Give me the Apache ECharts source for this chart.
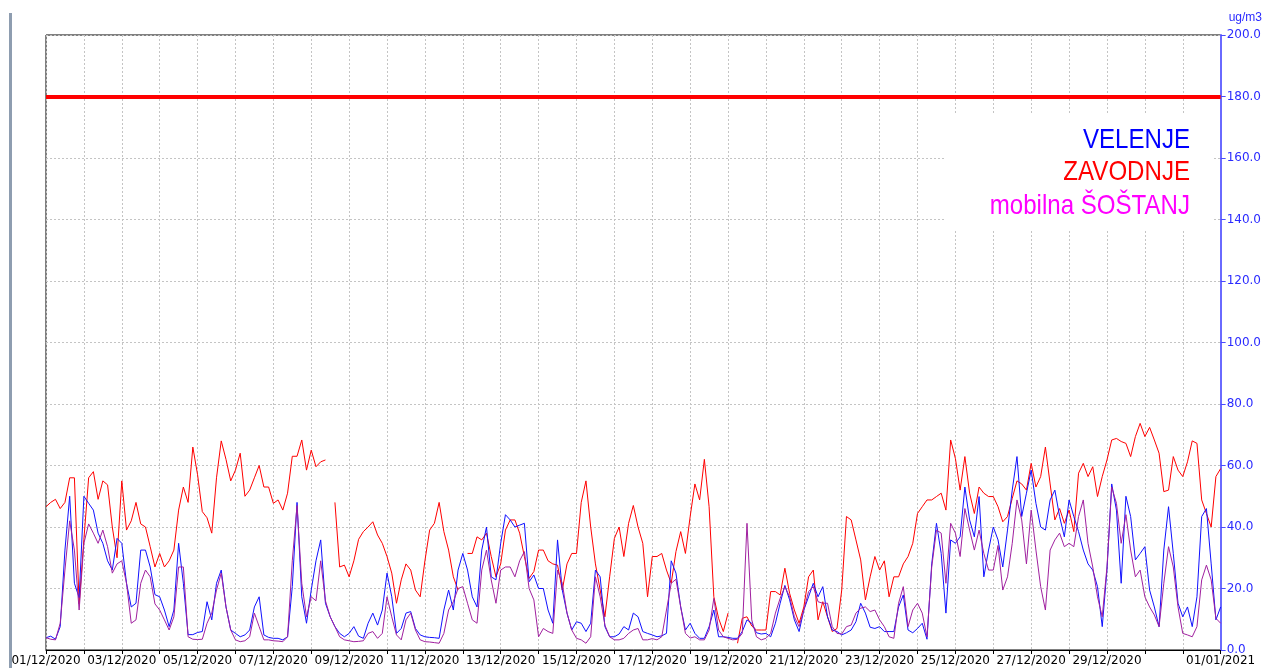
<!DOCTYPE html>
<html>
<head>
<meta charset="utf-8">
<script src="https://cdn.jsdelivr.net/npm/echarts@6/dist/echarts.min.js"></script>
<style>
html, body { margin: 0; padding: 0; background: #fff; }
#chart { width: 1264px; height: 668px; }
</style>
</head>
<body>
<div id="chart"></div>
<script>
// 3-urne vrednosti od 01/12/2020 00:00 do 01/01/2021 00:00 (ug/m3)
const stepHours = 3;

const velenje = [
  4, 4.5, 3.5, 7.6, 32.5, 50, 21.7, 17, 50, 47.7, 45.5, 38, 34.7, 29, 26, 36.3, 34.7, 21.7, 14, 15.2,
  32.5, 32.5, 27, 18, 17.3, 13, 7.6, 13, 34.7, 21.7, 5, 5, 5.7,
  6, 15.7, 9.8, 21.7, 26, 14, 6.5, 5.4, 4.3, 4.9, 6.5, 14, 17.3, 4.9, 4.1, 3.8, 3.8, 3.3, 4.3, 20.6,
  48, 17.3, 8.7, 19.5, 29, 35.8, 15.2, 10.8, 7.6, 5.4, 4.3, 5.4, 7.6,
  4.5,
  3.8, 8.7, 12, 8.1, 13, 25, 17.3, 5.4, 7, 12, 12.5, 7, 4.9, 4.3, 4.1, 4, 3.8, 13, 19.5, 13,
  26, 31.4, 26, 17.3, 14, 32.5, 40, 23.8, 22.8, 34.7, 44, 42.3, 40,
  40.6,
  41.2, 22.2, 24.4, 20, 20, 13, 8.7, 35.8, 19.5, 12, 6.5, 9.2, 8.7, 6, 8.7, 26, 23.8, 7.6, 4.3, 4.3,
  5.2, 7.6, 6.5, 12, 10.8, 6, 5.4, 4.9, 4.3, 4.6, 5.4, 29, 25,
  14, 6.5, 8.7, 5.4, 3.8, 3.8, 7.6, 13, 4.3, 4.3, 4.1, 3.8, 3.8, 6, 9.8, 8.7, 5.6, 5.2, 5.4, 4.3,
  8.7, 15.2, 21, 16.3, 9.8, 6, 13, 17.3, 21.7, 17.3, 20.6, 10.8, 6.5,
  6,
  4.9, 5.6, 6.5, 9.2, 15.2, 12, 7.4, 7, 7.6, 6, 6, 6, 14, 17.9, 6.5, 5.6, 7, 8.7, 3.5, 28,
  41.2, 31.4, 12, 35.8, 34.7, 36.8, 53, 42.3, 36.8, 49.9, 23.8, 32.5, 40,
  35.8, 27, 39, 52, 62.9, 43.4, 51, 58.5, 47.7, 40, 39, 48.8, 52, 43.4, 36.8, 48.8, 43.4, 38.5, 32.5, 28,
  26, 20.6, 7.6, 26, 54, 45.5, 21.7, 50, 43.4, 29.3, 31.4, 33.6, 19.5,
  14, 7.6, 32.5, 46.6, 31.4, 15.2, 10.8, 14, 7.6, 17.3, 43.4, 46, 28, 9.8, 14
];

const zavodnje = [
  46.6, 48, 49, 46, 48, 56, 56, 15, 36, 56, 58, 49, 55, 53.7, 40, 30, 55, 39, 42, 48,
  41, 40, 33.6, 27, 31.4, 27, 29, 32.5, 45.5, 53, 48, 66, 57,
  45, 43, 38, 56, 68, 62, 55, 58.5, 64, 50, 52, 56, 60, 53, 53, 47.7, 48.8, 45.5, 51, 63,
  63, 68.3, 58.5, 65, 59.6, 61.2, 61.8, null, 48, 27, 27.6, 23.8, 29,
  36,
  38.5, 40, 41.7, 37.4, 34.7, 30.4, 25, 15.2, 22.8, 28, 26, 19.5, 17.3, 29, 39, 41.2, 48, 38.5, 32.5, 23.8,
  19.5, null, 31.4, 31.4, 36.8, 35.8, 38, 30.4, 23.8, 28, 39, 42.3, 42.3,
  38,
  30.4, 23.3, 25.5, 32.5, 32.5, 29, 28, 27.6, 19.5, 28, 31.4, 31.4, 48, 55, 40, 28, 19.5, 10.8, 23.8, 36.3,
  40, 30.4, 41.2, 47, 40, 34.7, 17.3, 30.4, 30.4, 31.4, 26, 21.7, 32,
  38.5, 31.4, 43.4, 54, 48.8, 62, 46.6, 17.3, 10.3, 6, 12, null, 2.2, 10.3, 10.8, 7.8, 6.5, 6.5, 6.5, 19,
  19, 17.9, 26.6, 18.4, 13, 8.7, 14, 23.8, 26, 9.8, 15.7, 10.8, 6,
  7,
  19.5, 43.4, 42.3, 35.8, 29.3, 16.3, 23.8, 30.4, 26, 29, 17.3, 23.8, 23.8, 28, 30.4, 34.7, 44.4, 46.6, 48.8, 48.8,
  49.9, 51, 45.5, 68.3, 62.3, 52, 62.9, 51, 44.4, 53, 51, 49.9, 49.9,
  46.6, 41.7, 43.4, 49.3, 55, 54, 52, 60.7, 53, 56.4, 66, 54, 42.3, 46, 41.2, 45.5, 38.5, 57.5, 60.7, 56.4,
  59.6, 49.9, 56.4, 61.8, 68.3, 68.8, 67.8, 67.2, 62.9, 69.4, 73.7, 69.4, 72.4,
  68.3, 64, 51.5, 52, 62.9, 58.5, 56.4, 61.2, 68, 67.2, 48.8, 44.4, 40, 56.4, 59
];

const sostanj = [
  4, 3.5, 3.3, 8.7, 26, 42, 32.5, 13, 34.7, 41, 38, 34.7, 39, 33.6, 25, 28, 29, 21.7, 8.7, 9.8,
  21.7, 26, 23.8, 15, 13, 9.8, 6.5, 10.8, 27, 27, 4.3, 3.5, 3.4,
  3.5, 8.7, 12, 19.5, 25, 14, 6.5, 3.3, 2.7, 3, 4.3, 12, 7.6, 3.3, 3.3, 3, 2.9, 2.7, 4.3, 29,
  47, 21.7, 10.8, 17.3, 16, 29, 16, 10.8, 7.6, 4.3, 3.3, 3, 2.7,
  2.8,
  3, 5.4, 6, 3.8, 5.4, 17.3, 10.8, 4.9, 3.3, 9.8, 12, 6.5, 3.3, 2.7, 2.6, 2.4, 2.2, 5.4, 13, 15.7,
  20, 20.6, 15.2, 9.8, 8.7, 26, 32.5, 22.8, 15.2, 26, 27, 27, 23.8,
  29,
  32, 20, 16.3, 4.3, 7, 6, 5.4, 26, 21.7, 12, 6.5, 3.8, 3.3, 2.2, 4.3, 23.8, 17.3, 8.1, 4.3, 3.3,
  3.3, 3.8, 5.4, 6.5, 7, 3.3, 3.3, 3.7, 3.3, 4.3, 13, 21.7, 23,
  14, 5.4, 3.9, 4.3, 3.3, 3.3, 6.5, 16.8, 6.5, 4.3, 3.8, 3.3, 3.5, 5.4, 41.2, 9.8, 4.3, 3.3, 3.8, 5.4,
  12, 16.8, 20.6, 17.3, 10.8, 7.6, 13, 19, 20.6, 15.7, 15.2, 15.2, 7.6,
  5.4,
  5.2, 7.6, 8.1, 12, 13.6, 14, 12.5, 13, 9.8, 7.6, 4.3, 3.8, 15.2, 20.6, 7.6, 13, 15.2, 12, 4.3, 27,
  39, 38, 21.7, 41.2, 38, 30.4, 46, 39, 32.5, 39, 31.4, 26, 26,
  34, 19.5, 23.8, 34.7, 48.8, 42.3, 28, 45.5, 32.5, 20.6, 13, 32.5, 35.8, 38, 33.6, 34.7, 33.6, 43.4, 48.8, 34.7,
  27, 17.3, 10.8, 27, 53, 47.7, 34.7, 44, 32.5, 23.8, 26, 17.3, 14,
  11.4, 7.6, 21.7, 33.6, 27, 14, 5.4, 4.9, 4.3, 7.6, 22.8, 27.6, 22.8, 10.3, 8.7
];

// oznake na osi x (en dan = 24 ur), prazne se ne izpisejo
const dayLabels = [
  '01/12/2020', '', '03/12/2020', '', '05/12/2020', '', '07/12/2020', '', '09/12/2020', '',
  '11/12/2020', '', '13/12/2020', '', '15/12/2020', '', '17/12/2020', '', '19/12/2020', '',
  '21/12/2020', '', '23/12/2020', '', '25/12/2020', '', '27/12/2020', '', '29/12/2020', '',
  '', '01/01/2021'
];

const limitValue = 180;

// [ura, vrednost]
function toPairs(values) {
  return values.map((v, i) => [i * stepHours, v]);
}

const chart = echarts.init(document.getElementById('chart'), null, { renderer: 'canvas' });

chart.setOption({
  animation: false,
  backgroundColor: '#fff',
  grid: {
    left: 46,
    right: 42,
    top: 35,
    bottom: 18,
    show: true,
    borderColor: '#000',
    borderWidth: 1,
    backgroundColor: '#fff'
  },
  xAxis: {
    type: 'value',
    min: 0,
    max: 744,
    interval: 24,
    axisLine: { show: true, onZero: false, lineStyle: { color: '#000', width: 1 } },
    axisTick: { show: true, length: 4, lineStyle: { color: '#000' } },
    axisLabel: {
      show: true,
      margin: 5,
      color: '#000',
      fontSize: 12,
      fontFamily: 'DejaVu Sans',
      showMinLabel: true,
      showMaxLabel: true,
      formatter: function (v) {
        return dayLabels[Math.round(v / 24)] || '';
      }
    },
    splitLine: {
      show: true,
      lineStyle: { color: '#c4c4c4', type: [2, 2], width: 1 }
    }
  },
  yAxis: {
    type: 'value',
    position: 'right',
    min: 0,
    max: 200,
    interval: 20,
    axisLine: { show: true, onZero: false, lineStyle: { color: '#6a6aff', width: 2 } },
    axisTick: { show: true, length: 5, lineStyle: { color: '#4a4aff' } },
    axisLabel: {
      margin: 6,
      color: '#2b2bff',
      fontSize: 12,
      fontFamily: 'DejaVu Sans',
      formatter: function (v) { return v.toFixed(1); }
    },
    splitLine: {
      show: true,
      lineStyle: { color: '#c4c4c4', type: [2, 2], width: 1 }
    }
  },
  series: [
    {
      name: 'ZAVODNJE',
      type: 'line',
      data: toPairs(zavodnje),
      showSymbol: false,
      connectNulls: false,
      lineStyle: { color: '#ff0000', width: 1 },
      itemStyle: { color: '#ff0000' },
      z: 2,
      markLine: {
        silent: true,
        symbol: ['none', 'none'],
        label: { show: false },
        lineStyle: { color: '#ff0000', type: 'solid', width: 4 },
        data: [{ yAxis: limitValue }]
      }
    },
    {
      name: 'VELENJE',
      type: 'line',
      data: toPairs(velenje),
      showSymbol: false,
      lineStyle: { color: '#1010ff', width: 1 },
      itemStyle: { color: '#1010ff' },
      z: 3
    },
    {
      name: 'mobilna ŠOŠTANJ',
      type: 'line',
      data: toPairs(sostanj),
      showSymbol: false,
      lineStyle: { color: '#a0209f', width: 1 },
      itemStyle: { color: '#a0209f' },
      z: 4
    }
  ],
  graphic: [
    // siva crta ob levem robu
    { type: 'rect', left: 9, top: 13, shape: { width: 3, height: 655 }, style: { fill: '#8e9db0' }, z: 10 },
    // enota
    {
      type: 'text', right: 2, top: 12, z: 10,
      style: { text: 'ug/m3', fill: '#2b2bff', font: '12px "Liberation Sans"' }
    },
    // legenda z belim ozadjem
    { type: 'rect', left: 946, top: 113, shape: { width: 266, height: 117 }, style: { fill: '#fff' }, z: 10 },
    {
      type: 'text', x: 1190, y: 140, scaleX: 0.86, z: 11,
      style: { text: 'VELENJE', fill: '#0000ff', font: '28px "Liberation Sans"', textAlign: 'right', textVerticalAlign: 'middle' }
    },
    {
      type: 'text', x: 1190, y: 172, scaleX: 0.86, z: 11,
      style: { text: 'ZAVODNJE', fill: '#ff0000', font: '28px "Liberation Sans"', textAlign: 'right', textVerticalAlign: 'middle' }
    },
    {
      type: 'text', x: 1190, y: 206, scaleX: 0.86, z: 11,
      style: { text: 'mobilna ŠOŠTANJ', fill: '#ff00ff', font: '28px "Liberation Sans"', textAlign: 'right', textVerticalAlign: 'middle' }
    }
  ]
});
</script>
</body>
</html>
